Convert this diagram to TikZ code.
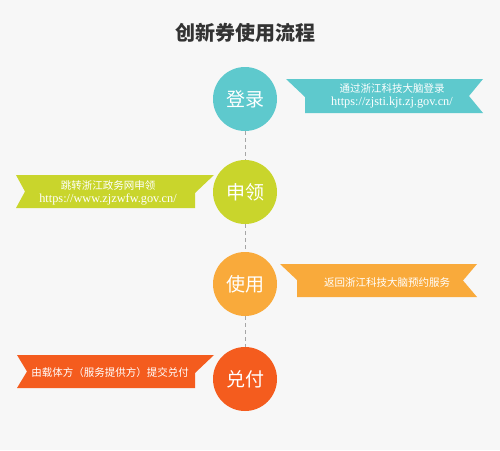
\documentclass[tikz,border=0pt]{standalone}
\usepackage{fontspec}
\setmainfont{Liberation Serif}
\newfontfamily\cjk{Noto Sans CJK SC}
\definecolor{bg}{HTML}{F7F7F7}
\definecolor{cteal}{HTML}{5EC9CD}
\definecolor{clime}{HTML}{C9D52C}
\definecolor{corange}{HTML}{F9AA3B}
\definecolor{cred}{HTML}{F45C1E}
\definecolor{ctitle}{HTML}{333333}
\tikzset{
  stepcirc/.style={circle, fill=#1, minimum size=64pt, inner sep=0pt, text=white,
    font=\cjk\fontsize{19}{19}\selectfont},
  bantext/.style={text=white, align=center, inner sep=0pt,
    font=\fontsize{10.5}{13}\selectfont},
  link/.style={draw=gray!70, dashed, dash pattern=on 4pt off 3pt, line width=0.8pt}
}
\newcommand\urlsz{\fontsize{12.3}{13}\selectfont}
\begin{document}
\begin{tikzpicture}[x=1pt,y=-1pt]
\fill[bg] (0,0) rectangle (500,450);
\useasboundingbox (0,0) rectangle (500,450);
\node[text=ctitle, font=\cjk\bfseries\fontsize{20}{20}\selectfont] (title) at (245,33) {创新券使用流程};

% banners
\fill[cteal] (286,79) -- (483,79) -- (469,96) -- (483,113) -- (305,113) -- (305,97) -- cycle;
\fill[clime] (16,175) -- (214,175) -- (195,193) -- (195,208) -- (16,208) -- (25,191.5) -- cycle;
\fill[corange] (280,264) -- (477,264) -- (463,280.5) -- (477,297) -- (297,297) -- (297,280) -- cycle;
\fill[cred] (17,355) -- (214,355) -- (195,373) -- (195,388) -- (17,388) -- (27,371.5) -- cycle;

\node[bantext] (t1) at (392,96) {{\cjk 通过浙江科技大脑登录}\\{\urlsz https://zjsti.kjt.zj.gov.cn/}};
\node[bantext] (t2) at (108,193) {{\cjk 跳转浙江政务网申领}\\{\urlsz https://www.zjzwfw.gov.cn/}};
\node[bantext, font=\cjk\fontsize{10.5}{13}\selectfont] (t3) at (387,283) {返回浙江科技大脑预约服务};
\node[bantext, font=\cjk\fontsize{10.5}{13}\selectfont] (t4) at (110,373) {由载体方（服务提供方）提交兑付};

% steps
\node[stepcirc=cteal] (s1) at (245,99) {登录};
\node[stepcirc=clime] (s2) at (245,192) {申领};
\node[stepcirc=corange] (s3) at (245,284) {使用};
\node[stepcirc=cred] (s4) at (245,379) {兑付};

\draw[link] (s1) -- (s2);
\draw[link] (s2) -- (s3);
\draw[link] (s3) -- (s4);
\end{tikzpicture}
\end{document}
